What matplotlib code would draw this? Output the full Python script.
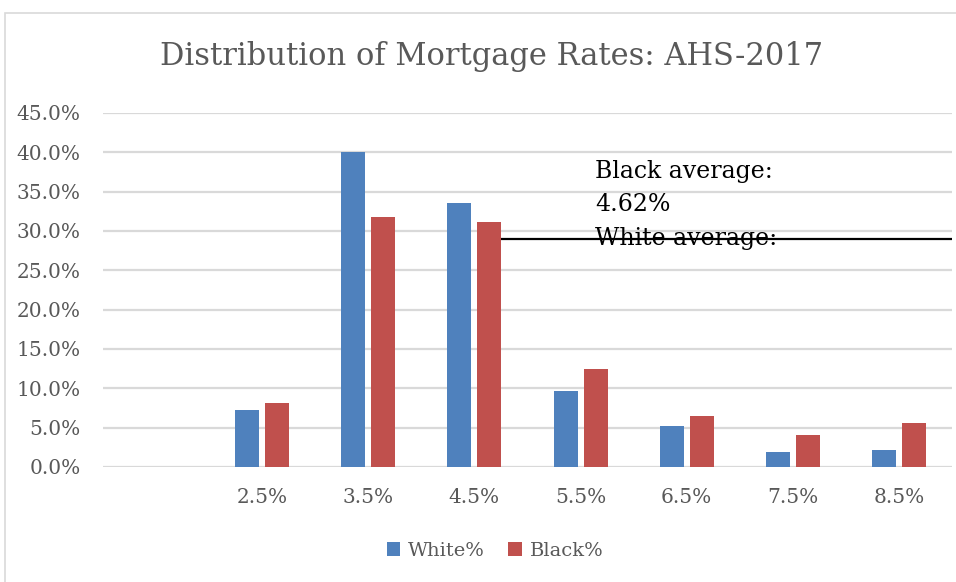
import numpy as np
import matplotlib
matplotlib.use("Agg")
import matplotlib.pyplot as plt
from matplotlib.patches import Rectangle
from matplotlib.ticker import PercentFormatter

plt.rcParams['font.family'] = ['DejaVu Serif']

categories = ['', '2.5%', '3.5%', '4.5%', '5.5%', '6.5%', '7.5%', '8.5%']
white_pct = [0.0, 7.25, 40.0, 33.6, 9.7, 5.2, 1.95, 2.1]
black_pct = [0.0, 8.1, 31.8, 31.2, 12.5, 6.5, 4.07, 5.6]

blue = '#4f81bd'
red = '#c0504d'
grey = '#595959'

W, H = 956, 582
fig = plt.figure(figsize=(W / 100, H / 100), dpi=100)
# outer chart frame (runs off the right and bottom edges)
fig.patches.append(Rectangle((5 / W, -0.1), 1.2, 1.1 - 13 / H, transform=fig.transFigure,
                             fill=False, edgecolor='#d9d9d9', lw=1.2))

ax = fig.add_axes([103 / W, 1 - 467 / H, (952 - 103) / W, (467 - 113) / H])

x = np.arange(len(categories))
bw = 0.226
off = 0.141
ax.bar(x - off, np.array(white_pct) / 100, bw, color=blue, label='White%', zorder=3)
ax.bar(x + off, np.array(black_pct) / 100, bw, color=red, label='Black%', zorder=3)

ax.set_xlim(-0.5, len(categories) - 0.5)
ax.set_ylim(0, 0.45)
ax.set_yticks(np.arange(0, 0.451, 0.05))
ax.yaxis.set_major_formatter(PercentFormatter(1.0, decimals=1))
ax.set_xticks(x)
ax.set_xticklabels(categories)
ax.grid(axis='y', color='#d9d9d9', lw=1.6, zorder=0)
for s in ax.spines.values():
    s.set_visible(False)
ax.tick_params(axis='both', length=0, labelsize=14.5, colors=grey)
ax.tick_params(axis='y', pad=16)
ax.tick_params(axis='x', pad=15)

# annotation shape and text box
ax.hlines(0.29, 3.25, 7.5, color='black', lw=1.6, zorder=4)
fig.text(595 / W, 1 - 178 / H, 'Black average:', fontsize=17, color='black', va='baseline')
fig.text(595 / W, 1 - 211 / H, '4.62%', fontsize=17, color='black', va='baseline')
fig.text(595 / W, 1 - 245 / H, 'White average:', fontsize=17, color='black', va='baseline')

fig.text(492 / W, 1 - 57 / H, 'Distribution of Mortgage Rates: AHS-2017',
         fontsize=22, color=grey, ha='center', va='center')

leg = fig.legend(loc='center', bbox_to_anchor=(495 / W, 1 - 551 / H), ncol=2,
                 frameon=False, fontsize=14, handlelength=0.7, handleheight=0.7,
                 handletextpad=0.4, columnspacing=1.2)
for t in leg.get_texts():
    t.set_color(grey)

fig.savefig('out.png', dpi=100)
